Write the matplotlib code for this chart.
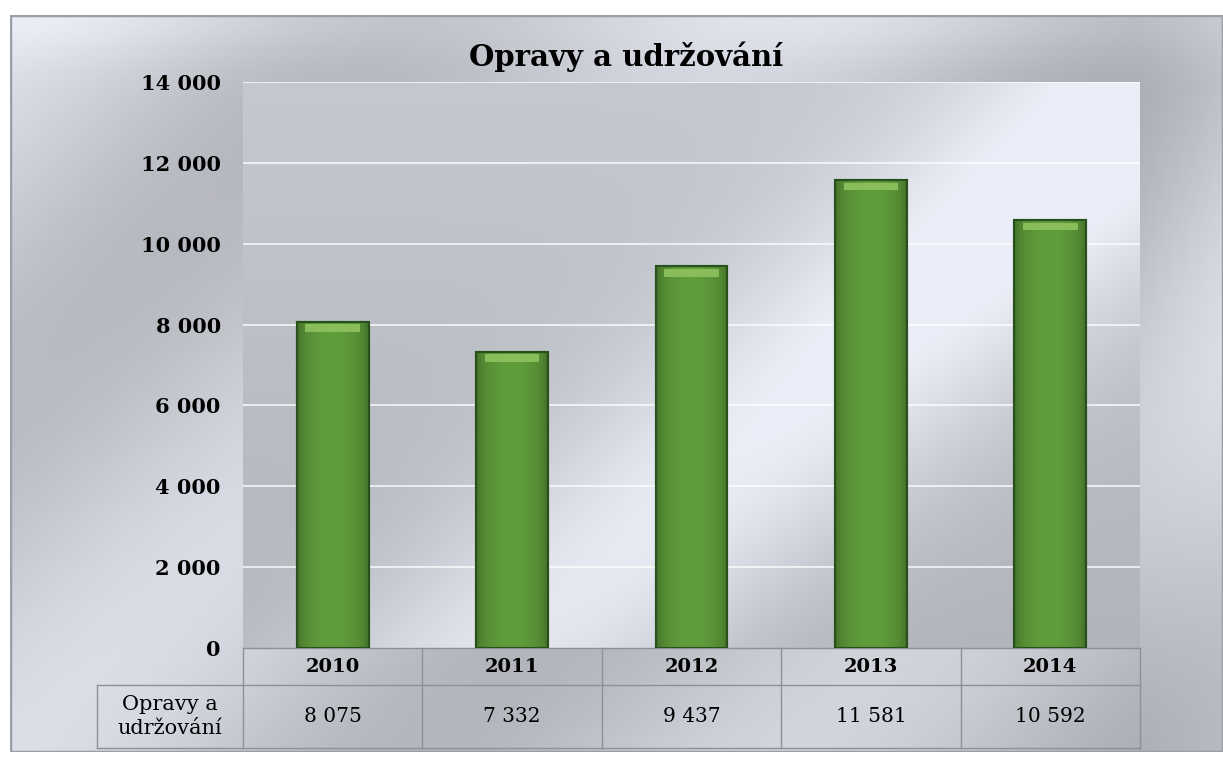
import numpy as np
import matplotlib.pyplot as plt
from matplotlib.patches import Rectangle

plt.rcParams['font.family'] = ['DejaVu Serif', 'Liberation Serif']

years = ["2010", "2011", "2012", "2013", "2014"]
values = [8075, 7332, 9437, 11581, 10592]
value_labels = ["8 075", "7 332", "9 437", "11 581", "10 592"]
series_name = "Opravy a\nudržování"
title = "Opravy a udržování"
yticks = [0, 2000, 4000, 6000, 8000, 10000, 12000, 14000]
ytick_labels = ["0", "2 000", "4 000", "6 000", "8 000", "10 000", "12 000", "14 000"]

W, H = 1223, 758
fig = plt.figure(figsize=(W / 100, H / 100), dpi=100)
fig.patch.set_facecolor("white")

# silver frame background
frame = fig.add_axes([10 / W, 1 - 752 / H, 1 - 10 / W, (752 - 15) / H])
frame.set_axis_off()
yy, xx = np.mgrid[0:1:200j, 0:1:300j]
g = 0.82 + 0.07 * np.cos((xx * 1.4 + yy * 0.9) * np.pi * 2.2) - 0.06 * xx + 0.08 * (xx > 0.93) * (xx - 0.93) * 10
g = g + 0.06 * np.exp(-(yy / 0.06) ** 2)
g = np.clip(g, 0.6, 0.97)
rgb = np.dstack([g * 0.97, g * 0.98, g * 1.02])
frame.imshow(np.clip(rgb, 0, 1), extent=[0, 1, 0, 1], aspect="auto", origin="upper")
frame.add_patch(Rectangle((0, 0), 1, 1, transform=frame.transAxes, fill=False,
                          edgecolor="#9a9ea6", linewidth=2.5))

# plot area
ax = fig.add_axes([243 / W, 1 - 648 / H, (1140 - 243) / W, (648 - 82) / H])
x = np.arange(len(years))
ax.set_xlim(-0.5, len(years) - 0.5)
ax.set_ylim(0, 14000)

pyy, pxx = np.mgrid[0:1:200j, 0:1:300j]
d = pxx * 0.75 + (1 - pyy) * 0.55
pg = 0.72 + 0.2 * np.exp(-((d - 0.78) / 0.18) ** 2) + 0.08 * pyy
pg = np.clip(pg, 0.6, 0.95)
prgb = np.dstack([pg * 0.97, pg * 0.98, pg * 1.02])
ax.imshow(np.clip(prgb, 0, 1), extent=[-0.5, len(years) - 0.5, 0, 14000],
          aspect="auto", origin="lower", zorder=0)

for t in yticks[1:]:
    ax.axhline(t, color="white", linewidth=1.2, alpha=0.85, zorder=1)

bar_w = 0.4
bars = ax.bar(x, values, width=bar_w, color="#5a9236", edgecolor="#2f5a1a",
              linewidth=1.5, zorder=2)
# horizontal shading on each bar
shade = np.linspace(0, 1, 60)
prof = 0.7 + 0.4 * np.sin(shade * np.pi) ** 0.4
bar_rgb = np.array([0.34, 0.56, 0.21])
for b in bars:
    x0, w, h = b.get_x(), b.get_width(), b.get_height()
    img = np.clip(prof[None, :, None] * bar_rgb[None, None, :], 0, 1)
    im = ax.imshow(img, extent=[x0, x0 + w, 0, h], aspect="auto", zorder=3)
    im.set_clip_path(b)
    ax.add_patch(Rectangle((x0, 0), w, h, fill=False, edgecolor="#28501a",
                           linewidth=1.5, zorder=4))
    ax.add_patch(Rectangle((x0 + w * 0.12, h - 250), w * 0.76, 180,
                           facecolor="#8fc25f", edgecolor="none", zorder=4, alpha=0.9))

ax.set_xticks([])
ax.set_yticks(yticks)
ax.set_yticklabels(ytick_labels, fontsize=15, fontweight="bold")
ax.tick_params(axis="y", length=0, pad=16)
for s in ax.spines.values():
    s.set_visible(False)

fig.text(626 / W, 1 - 57 / H, title, ha="center", va="center",
         fontsize=21, fontweight="bold")

# data table below plot
ph = 648 - 82
r1 = -37 / ph
r2 = -100 / ph
lx = (97 - 243) / (1140 - 243)
lc = "#8c9098"
kw = dict(transform=ax.transAxes, clip_on=False, color=lc, linewidth=1)
ax.plot([0, 1], [0, 0], **kw)
ax.plot([lx, 1], [r1, r1], **kw)
ax.plot([lx, 1], [r2, r2], **kw)
ax.plot([lx, lx], [r1, r2], **kw)
for i in range(len(years) + 1):
    ax.plot([i / len(years)] * 2, [0, r2], **kw)
for i, (yr, lab) in enumerate(zip(years, value_labels)):
    cx = (i + 0.5) / len(years)
    ax.text(cx, r1 / 2, yr, transform=ax.transAxes, ha="center", va="center",
            fontsize=14, fontweight="bold")
    ax.text(cx, (r1 + r2) / 2, lab, transform=ax.transAxes, ha="center",
            va="center", fontsize=14.5)
ax.text(lx / 2, (r1 + r2) / 2, series_name, transform=ax.transAxes,
        ha="center", va="center", fontsize=15, linespacing=1.3)

fig.savefig("out.png", dpi=100)
